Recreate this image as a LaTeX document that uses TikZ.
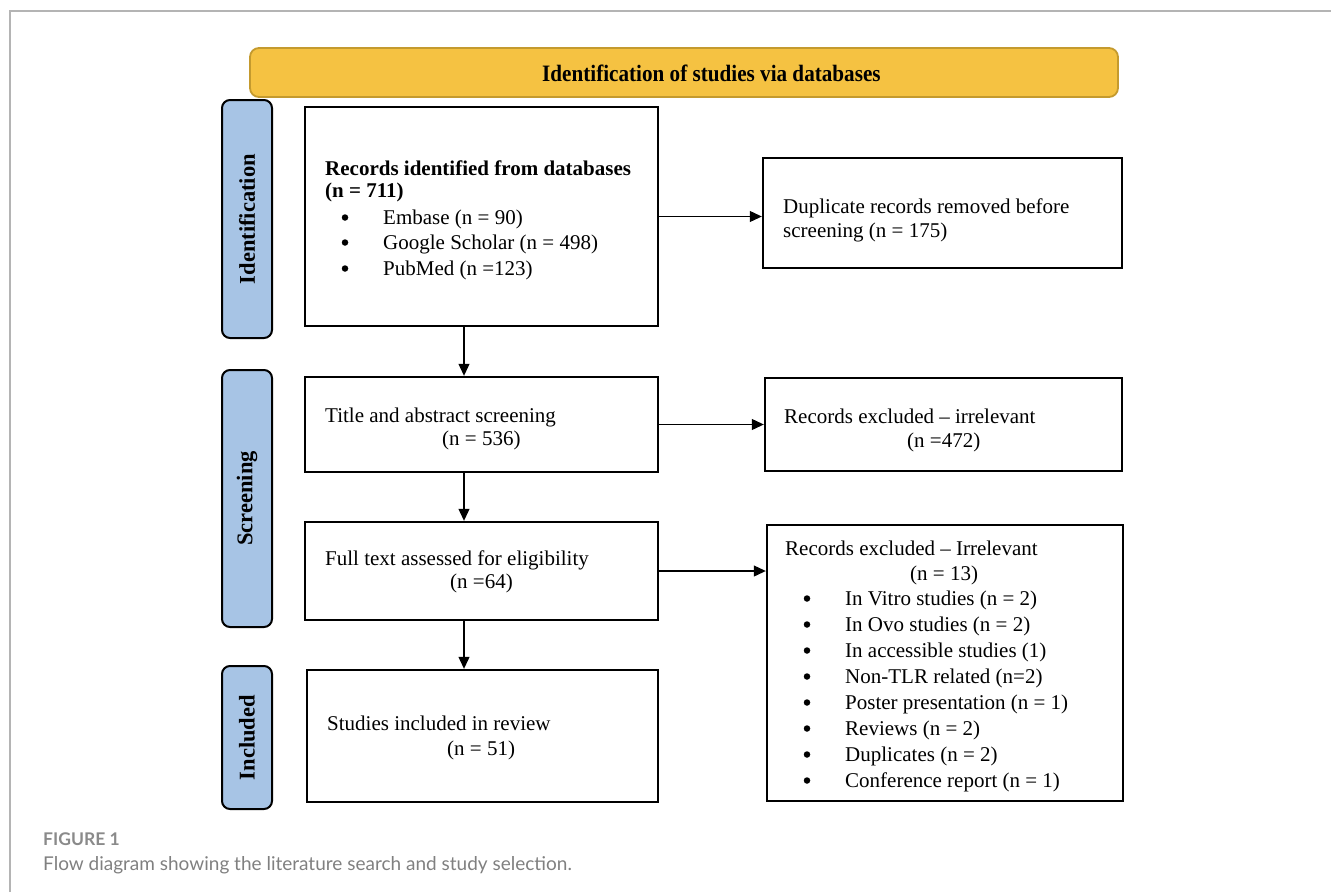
\documentclass[tikz,border=0pt]{standalone}
\usepackage{fontspec}
\setmainfont{Liberation Serif}
\newfontfamily\capfont{Lato}
\usetikzlibrary{arrows.meta,calc}
\definecolor{hdrfill}{HTML}{F5C242}
\definecolor{hdrdraw}{HTML}{C49A2E}
\definecolor{lblfill}{HTML}{A7C4E5}
\definecolor{framegray}{HTML}{B4B4B4}
\definecolor{capgray}{HTML}{8A8A8A}
\definecolor{captext}{HTML}{808080}
\begin{document}
\begin{tikzpicture}[x=1pt,y=-1pt,
  box/.style={draw=black,line width=2.4pt,fill=white,inner sep=0pt},
  hdr/.style={draw=hdrdraw,line width=1.8pt,fill=hdrfill,rounded corners=9pt,inner sep=0pt},
  hdrtext/.style={anchor=base west,inner sep=0pt,font=\fontsize{23.5}{26}\selectfont\bfseries},
  lbl/.style={draw=black,line width=2pt,fill=lblfill,rounded corners=8pt,inner sep=0pt,rotate=90,
    font=\fontsize{22.5}{24}\selectfont\bfseries},
  txt/.style={anchor=base west,inner sep=0pt,font=\fontsize{21}{24}\selectfont},
  btxt/.style={txt,font=\fontsize{21}{24}\selectfont\bfseries},
  bul/.style={circle,fill=black,inner sep=0pt,minimum size=6.5pt},
  arr/.style={line width=1.1pt,-{Triangle[length=12pt,width=11pt]}},
  frame/.style={draw=framegray,line width=1.5pt}
]
\useasboundingbox (0,0) rectangle (1331,892);
% page frame
\draw[frame] (10,892) -- (10,11) -- (1331,11);

% header
\node[hdr,minimum width=868,minimum height=49] (hdr) at (684,72.5) {};
\node[hdrtext] (hdrt) at (542,81) {\scalebox{0.9}[1]{Identification of studies via databases}};

% stage labels
\node[lbl,minimum width=238,minimum height=50] (lid) at (247,219) {Identification};
\node[lbl,minimum width=257,minimum height=50] (lsc) at (247,498.5) {Screening};
\node[lbl,minimum width=143,minimum height=50] (lin) at (247,737.5) {Included};

% boxes
\node[box,minimum width=353,minimum height=219] (rec) at (481.5,216.5) {};
\node[box,minimum width=359,minimum height=110] (dup) at (942.5,213) {};
\node[box,minimum width=353,minimum height=95] (tas) at (481.5,424.5) {};
\node[box,minimum width=357,minimum height=93] (ex1) at (943.5,424.5) {};
\node[box,minimum width=353,minimum height=98] (ful) at (481.5,571) {};
\node[box,minimum width=356,minimum height=276] (ex2) at (945,663) {};
\node[box,minimum width=351,minimum height=132] (inc) at (482.5,736) {};

% texts: records identified
\node[btxt] (r1) at (325,175) {Records identified from databases};
\node[btxt] (r2) at (325,197) {(n = 711)};
\node[bul] (rb1) at (345,217.5) {};
\node[txt] (r3) at (383,224) {Embase (n = 90)};
\node[bul] (rb2) at (345,242.5) {};
\node[txt] (r4) at (383,249) {Google Scholar (n = 498)};
\node[bul] (rb3) at (345,268.5) {};
\node[txt] (r5) at (383,275) {PubMed (n =123)};

% duplicates
\node[txt] (d1) at (783,213) {Duplicate records removed before};
\node[txt] (d2) at (783,237) {screening (n = 175)};

% title and abstract
\node[txt] (t1) at (325,422) {Title and abstract screening};
\node[txt] (t2) at (442,445) {(n = 536)};

% excluded 1
\node[txt] (e1) at (784,423) {Records excluded – irrelevant};
\node[txt] (e2) at (907,447) {(n =472)};

% full text
\node[txt] (f1) at (325,565) {Full text assessed for eligibility};
\node[txt] (f2) at (450,588) {(n =64)};

% excluded 2
\node[txt] (x1) at (785,555) {Records excluded – Irrelevant};
\node[txt] (x2) at (910,580) {(n = 13)};
\foreach \i/\yy/\t in {1/605/{In Vitro studies (n = 2)},
                       2/631/{In Ovo studies (n = 2)},
                       3/657/{In accessible studies (1)},
                       4/683/{Non-TLR related (n=2)},
                       5/709/{Poster presentation (n = 1)},
                       6/735/{Reviews (n = 2)},
                       7/761/{Duplicates (n = 2)},
                       8/787/{Conference report (n = 1)}}{
  \node[bul] (xb\i) at (807,\yy-6.5) {};
  \node[txt] (xt\i) at (845,\yy) {\t};
}

% included
\node[txt] (i1) at (327,730) {Studies included in review};
\node[txt] (i2) at (447,755) {(n = 51)};

% connectors
\draw[arr] ([xshift=-17.5pt]rec.south) -- ([xshift=-17.5pt]rec.south |- tas.north);
\draw[arr] ([xshift=-17.5pt]tas.south) -- ([xshift=-17.5pt]tas.south |- ful.north);
\draw[arr] ([xshift=-17.5pt]ful.south) -- ([xshift=-17.5pt]ful.south |- inc.north);
\draw[arr] (rec.east) -- (rec.east -| dup.west);
\draw[arr] (tas.east) -- (tas.east -| ex1.west);
\draw[arr] (ful.east) -- (ful.east -| ex2.west);

% caption
\node[anchor=base west,inner sep=0pt,text=capgray,font=\capfont\fontsize{17.5}{20}\selectfont\bfseries] (cap1) at (43,845) {FIGURE 1};
\node[anchor=base west,inner sep=0pt,text=captext,font=\capfont\fontsize{19}{22}\selectfont] (cap2) at (43,870) {Flow diagram showing the literature search and study selection.};
\end{tikzpicture}
\end{document}
